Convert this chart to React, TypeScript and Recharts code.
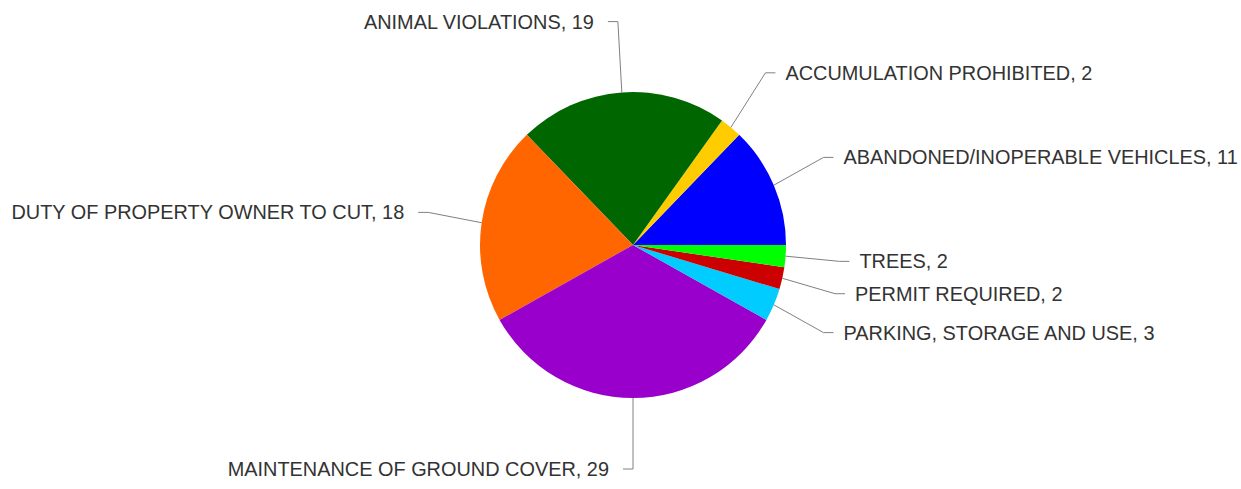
import { PieChart, Pie, Cell } from "recharts";

const categories = [
  "ABANDONED/INOPERABLE VEHICLES",
  "ACCUMULATION PROHIBITED",
  "ANIMAL VIOLATIONS",
  "DUTY OF PROPERTY OWNER TO CUT",
  "MAINTENANCE OF GROUND COVER",
  "PARKING, STORAGE AND USE",
  "PERMIT REQUIRED",
  "TREES",
];

const counts = [11, 2, 19, 18, 29, 3, 2, 2];

const colors = ["#0000ff", "#ffcc00", "#006600", "#ff6600", "#9900cc", "#00ccff", "#cc0000", "#00ff00"];

const data = categories.map((name, i) => ({ name, value: counts[i] }));

const RAD = Math.PI / 180;

// leader line: edge of the pie -> bend point -> short horizontal stub, then the text
function renderLabel(props: any) {
  const { cx, cy, midAngle, outerRadius, name, value } = props;
  const cos = Math.cos(-midAngle * RAD);
  const sin = Math.sin(-midAngle * RAD);
  const right = cos >= 0;
  const sx = cx + outerRadius * cos;
  const sy = cy + outerRadius * sin;
  const bx = cx + (outerRadius + 54) * cos;
  const by = cy + (outerRadius + 71) * sin;
  const ex = bx + (right ? 10 : -10);
  const tx = ex + (right ? 10 : -14);
  return (
    <g>
      <polyline
        points={`${sx},${sy} ${bx},${by} ${ex},${by}`}
        fill="none"
        stroke="#808080"
        strokeWidth={1}
      />
      <text
        x={tx}
        y={by}
        textAnchor={right ? "start" : "end"}
        dominantBaseline="central"
        fill="#333333"
        fontSize={19.9}
        fontFamily="'Liberation Sans', Arial, sans-serif"
      >
        {`${name}, ${value}`}
      </text>
    </g>
  );
}

export default function App() {
  return (
    <div style={{ width: 1241, height: 489, background: "#fff" }}>
      <style>{"body{margin:0}"}</style>
      <PieChart width={1241} height={489} margin={{ top: 0, right: 0, bottom: 0, left: 0 }}>
        <Pie
          data={data}
          dataKey="value"
          nameKey="name"
          cx={633}
          cy={245}
          outerRadius={153}
          startAngle={0}
          endAngle={360}
          stroke="none"
          label={renderLabel}
          labelLine={false}
          isAnimationActive={false}
        >
          {data.map((entry, index) => (
            <Cell key={`cell-${index}`} fill={colors[index]} />
          ))}
        </Pie>
      </PieChart>
    </div>
  );
}
